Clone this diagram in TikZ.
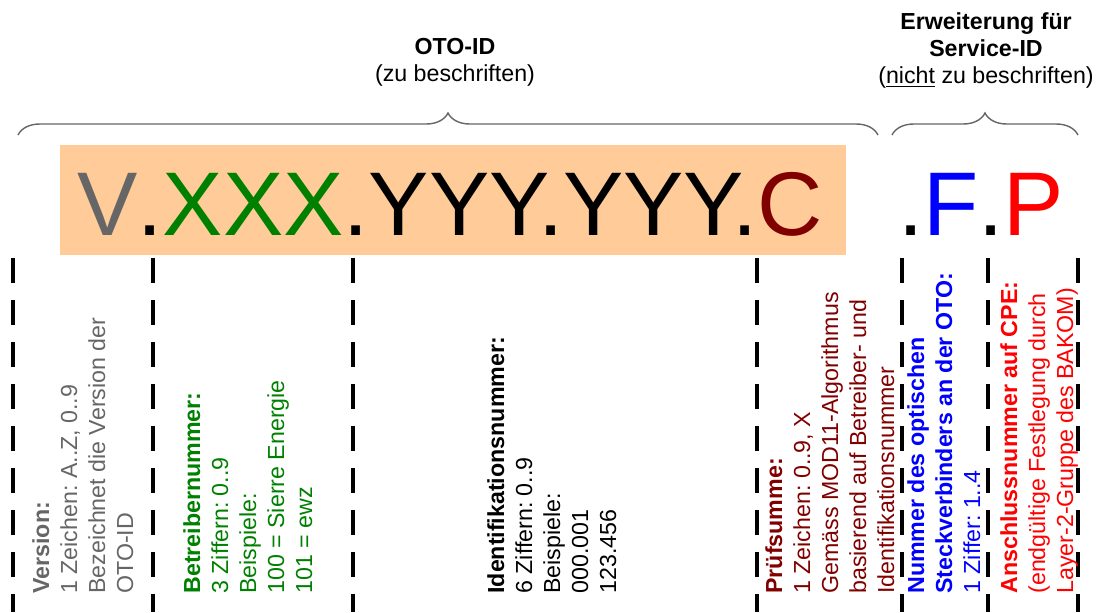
\documentclass[tikz,border=0pt]{standalone}
\usepackage{fontspec}
\setmainfont{Liberation Sans}
\usetikzlibrary{decorations.pathreplacing}
\definecolor{vergrau}{RGB}{102,102,102}
\definecolor{betgruen}{RGB}{0,128,0}
\definecolor{pruefrot}{RGB}{128,0,0}
\definecolor{steckblau}{RGB}{0,0,255}
\definecolor{cperot}{RGB}{255,0,0}
\definecolor{hinterg}{RGB}{255,204,153}
\frenchspacing

\begin{document}
\begin{tikzpicture}[x=0.5pt,y=-0.5pt,
  trenn/.style={line width=2pt, dash pattern=on 12.5pt off 8.5pt},
  klammer/.style={decorate, decoration={brace,amplitude=11pt}, draw=black!60, line width=0.7pt},
  idtext/.style={anchor=base west, inner sep=0, font=\fontsize{45.2}{45}\selectfont},
  info/.style={rotate=90, anchor=north west, inner sep=0, align=left, font=\fontsize{11.6}{14}\selectfont},
  kopf/.style={anchor=north, inner sep=0, align=center, font=\fontsize{11.6}{13.5}\selectfont}]

\useasboundingbox (0,0) rectangle (1099,612);

% Kopfzeilen
\node[kopf] (otokopf) at (455,38) {\textbf{OTO-ID}\\(zu beschriften)};
\node[kopf] (servkopf) at (986,12) {\textbf{Erweiterung für}\\\textbf{Service-ID}\\(\underline{nicht} zu beschriften)};
\draw[klammer] (18,135) -- (878,135);
\draw[klammer] (892,135) -- (1078,135);

% die ID selbst
\fill[hinterg] (60,145) rectangle (846,255);
\node[idtext] (otoid) at (77,235) {\textcolor{vergrau}{V}.\textcolor{betgruen}{XXX}.YYY.YYY.\textcolor{pruefrot}{C}};
\node[idtext] (servid) at (898,235) {.\textcolor{steckblau}{F}.\textcolor{cperot}{P}};

% Trennlinien
\foreach \x in {13,153,353,757,902,988,1078}
  \draw[trenn] (\x,258) -- (\x,612);

% Beschreibungen
\node[info, text=vergrau] (version) at (32,594) {\textbf{Version:}\\1 Zeichen: A..Z, 0..9\\Bezeichnet die Version der\\OTO-ID};
\node[info, text=betgruen] (betreiber) at (183,594) {\textbf{Betreibernummer:}\\3 Ziffern: 0..9\\Beispiele:\\100 = Sierre Energie\\101 = ewz};
\node[info] (ident) at (487,594) {\textbf{Identifikationsnummer:}\\6 Ziffern: 0..9\\Beispiele:\\000.001\\123.456};
\node[info, text=pruefrot] (pruef) at (765,594) {\textbf{Prüfsumme:}\\1 Zeichen: 0..9, X\\Gemäss MOD11-Algorithmus\\basierend auf Betreiber- und\\Identifikationsnummer};
\node[info, text=steckblau] (stecker) at (907,594) {\textbf{Nummer des optischen}\\\textbf{Steckverbinders an der OTO:}\\1 Ziffer: 1..4};
\node[info, text=cperot] (anschluss) at (1000,594) {\textbf{Anschlussnummer auf CPE:}\\(endgültige Festlegung durch\\Layer-2-Gruppe des BAKOM)};

\end{tikzpicture}
\end{document}
